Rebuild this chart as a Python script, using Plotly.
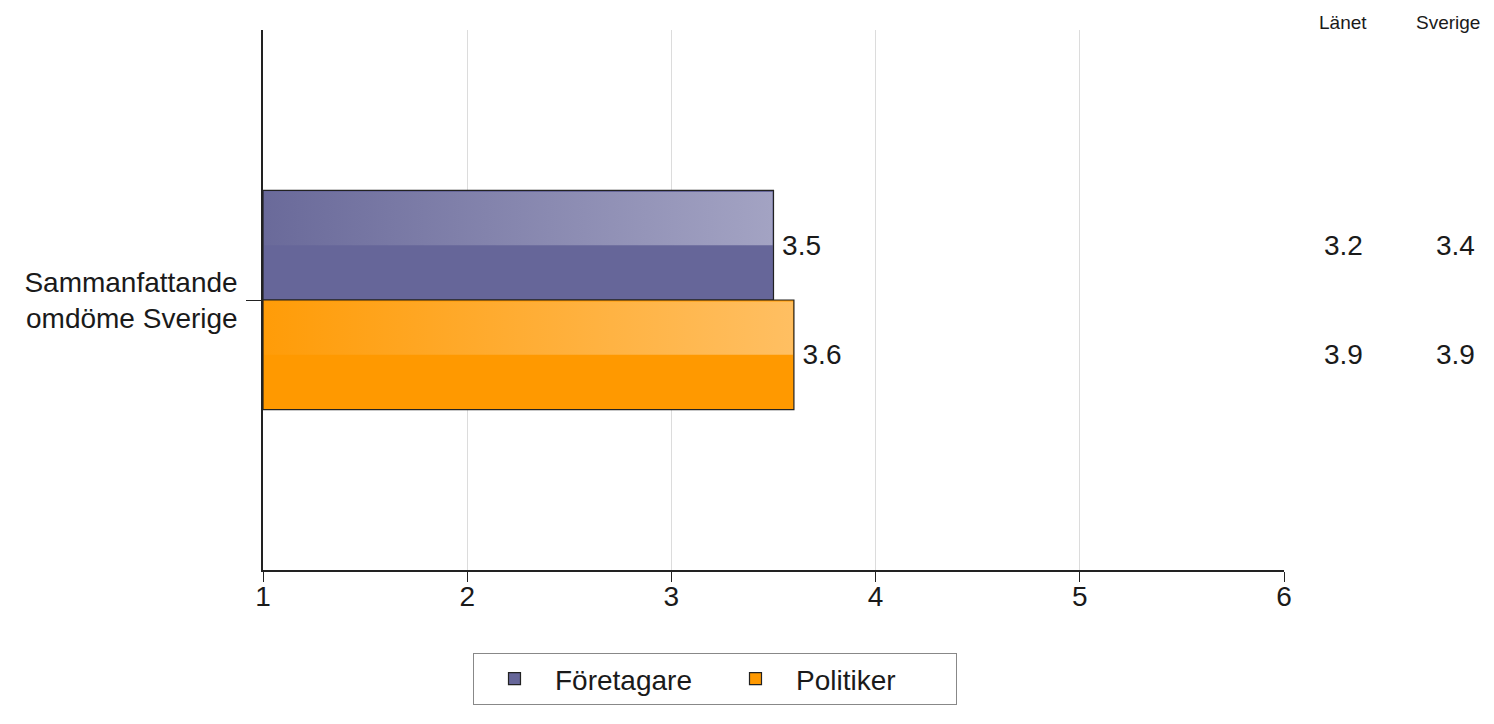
import plotly.graph_objects as go

categories = ["Sammanfattande<br>omdöme Sverige"]
series = ["Företagare", "Politiker"]
values = [3.5, 3.6]
lanet = [3.2, 3.9]
sverige = [3.4, 3.9]
x_ticks = [1, 2, 3, 4, 5, 6]

base_colors = ["#666699", "#ff9900"]
grad_left = ["#6a6a9a", "#ff9c08"]
grad_right = ["#a3a3c3", "#ffbf62"]

BAR_W = 0.203
centers = [BAR_W / 2, -BAR_W / 2]
AX_MIN = x_ticks[0]
TXT = "#1a1a1a"
FS = 28

fig = go.Figure()
for name, v, c, yc in zip(series, values, base_colors, centers):
    fig.add_trace(go.Bar(
        name=name, orientation="h", y=[yc], x=[v - AX_MIN], base=AX_MIN,
        width=BAR_W, marker=dict(color=c, line=dict(color="#222", width=1.2)),
        text=[f"\u2009{v:.1f}"], textposition="outside", cliponaxis=False,
        textfont=dict(size=FS, color=TXT), hoverinfo="skip",
    ))

# gradient highlight on upper half of each bar
for v, yc, cl, cr in zip(values, centers, grad_left, grad_right):
    x0, x1 = AX_MIN + 0.005, v - 0.005
    y0, y1 = yc, yc + BAR_W / 2 - 0.003
    fig.add_trace(go.Scatter(
        x=[x0, x1, x1, x0, x0], y=[y0, y0, y1, y1, y0], mode="none",
        fill="toself", fillgradient=dict(type="horizontal", colorscale=[[0, cl], [1, cr]]),
        showlegend=False, hoverinfo="skip",
    ))

# side columns
COL_X = [1.0578, 1.1675]
HEAD_X = [1.0578, 1.1606]
for label, cx in zip(["Länet", "Sverige"], HEAD_X):
    fig.add_annotation(text=label, x=cx, y=1.0148, xref="paper", yref="paper",
                       showarrow=False, font=dict(size=19, color=TXT),
                       xanchor="center", yanchor="middle")
for yc, a, b in zip(centers, lanet, sverige):
    for val, cx in zip([a, b], COL_X):
        fig.add_annotation(text=f"{val:.1f}", x=cx, y=yc, xref="paper", yref="y",
                           showarrow=False, font=dict(size=FS, color=TXT),
                           xanchor="center", yanchor="middle")

fig.update_layout(
    width=1486, height=708,
    margin=dict(l=255, r=210, t=22, b=145),
    paper_bgcolor="white", plot_bgcolor="white",
    font=dict(family="Liberation Sans, Arial, sans-serif", size=FS, color=TXT),
    barmode="overlay",
    showlegend=True,
    legend=dict(orientation="h", x=0.4427, xanchor="center", y=-0.1516, yanchor="top",
                bordercolor="#888", borderwidth=1, font=dict(size=FS),
                entrywidth=155, itemwidth=71, traceorder="normal"),
    xaxis=dict(range=[1, 6], tickvals=x_ticks, showgrid=True, gridcolor="#dcdcdc",
               showline=True, linecolor="#222", linewidth=2, ticks="outside",
               ticklen=10, tickcolor="#222", zeroline=False, tickfont=dict(size=FS),
               ticklabelstandoff=-10),
    yaxis=dict(range=[-0.5, 0.5], tickvals=[0], ticktext=categories, showgrid=False,
               showline=True, linecolor="#222", linewidth=1.5, ticks="outside",
               ticklen=15, tickcolor="#222", zeroline=False, tickfont=dict(size=FS),
               ticklabelstandoff=3),
)

fig.write_html("out.html")
